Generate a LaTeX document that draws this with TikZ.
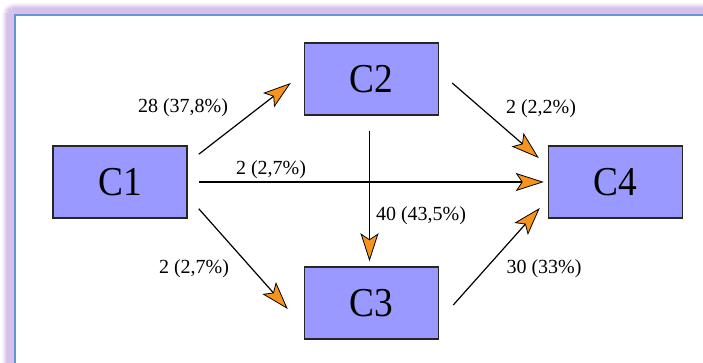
\documentclass[tikz,border=0pt]{standalone}
\usepackage{fontspec}
\usepackage{graphicx}
\setmainfont{Liberation Serif}
\usetikzlibrary{arrows.meta}
\definecolor{boxfill}{RGB}{153,153,255}
\definecolor{tipfill}{RGB}{247,148,29}
\definecolor{frameblue}{RGB}{98,150,208}
\definecolor{glowc}{RGB}{212,192,234}
\begin{document}
\begin{tikzpicture}[x=0.75pt,y=-0.75pt,
  cbox/.style={draw=black!85,line width=1.1pt,fill=boxfill,minimum width=100.5pt,minimum height=54pt,inner sep=0pt,font=\fontsize{28}{28}\selectfont},
  flow/.style={draw=black,line width=0.9pt,-{Stealth[length=21pt,width=13.5pt,inset=4.5pt,fill=tipfill,line width=0.6pt]}},
  lab/.style={font=\fontsize{15}{17}\selectfont,inner sep=0pt}]
\useasboundingbox (0,0) rectangle (703,362);
\clip (0,0) rectangle (703,362);
\fill[white] (0,0) rectangle (703,362);
% glow
\foreach \k/\p in {0/100,1/100,2/100,3/100,4/100,5/100,6/100,7/90,8/70,9/50,10/30,11/14} {
  \draw[glowc!\p!white,line width=0.8pt,rounded corners=\k*0.75pt] (14-\k-0.5,15-\k-0.5) rectangle (800,500);
}
\fill[white] (14,15) rectangle (800,500);
\draw[frameblue,line width=1.5pt] (800,15) -- (14.5,15) -- (14.5,500);
% boxes
\node[cbox] (C1) at (120,182) {\scalebox{1}[1.1]{C1}};
\node[cbox] (C2) at (371.5,79) {\scalebox{1}[1.1]{C2}};
\node[cbox] (C3) at (371.5,303) {\scalebox{1}[1.1]{C3}};
\node[cbox] (C4) at (615.5,182) {\scalebox{1}[1.1]{C4}};
% connectors
\draw[flow] ([shift={(11,9)}]C1.north east) -- ([shift={(-13,4)}]C2.west);
\draw[flow] ([shift={(13,4)}]C2.east) -- ([shift={(-9,-24)}]C4.west);
\draw[flow] ([shift={(11,0)}]C1.east) -- ([shift={(-4,0)}]C4.west);
\draw[flow] ([shift={(-2,15)}]C2.south) -- ([shift={(-2,-5)}]C3.north);
\draw[flow] ([shift={(11,-10)}]C1.south east) -- ([shift={(-16,6)}]C3.west);
\draw[flow] ([shift={(14,2)}]C3.east) -- ([shift={(-8,26)}]C4.west);
% labels
\node[lab] (l12) at (183,108) {28 (37,8\%)};
\node[lab] (l24) at (541,109) {2 (2,2\%)};
\node[lab] (l14) at (271,170) {2 (2,7\%)};
\node[lab] (l23) at (421,216) {40 (43,5\%)};
\node[lab] (l13) at (194,269) {2 (2,7\%)};
\node[lab] (l34) at (544,269) {30 (33\%)};
\end{tikzpicture}
\end{document}
